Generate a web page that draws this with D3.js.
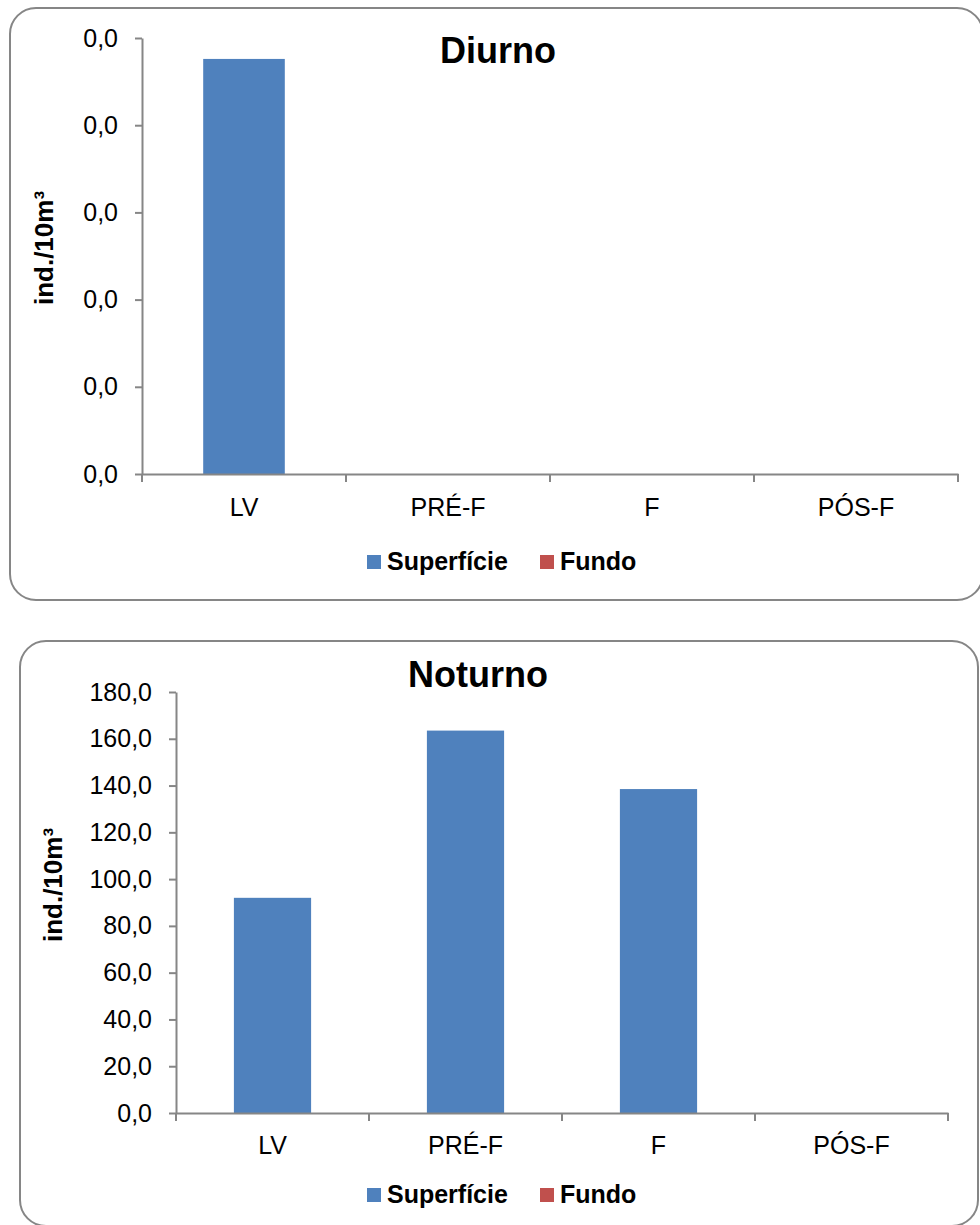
<!DOCTYPE html>
<html>
<head>
<meta charset="utf-8">
<script src="https://cdn.jsdelivr.net/npm/d3@7"></script>
<style>
  body { margin: 0; background: #fff; }
  svg { display: block; font-family: "Liberation Sans", Arial, sans-serif; }
  .axis path, .axis line { stroke: #868686; stroke-width: 2; }
  .axis text { font-size: 25px; fill: #000; }
</style>
</head>
<body>
<div id="chart"></div>
<script>
const categories = ["LV", "PRÉ-F", "F", "PÓS-F"];
const seriesNames = ["Superfície", "Fundo"];
const seriesColors = ["#4F81BD", "#C0504D"];

// diurnal values are tiny: every tick reads 0,0 with one decimal
const diurnoSuperficie = [0.0238, 0, 0, 0];
const diurnoFundo = [0, 0, 0, 0];
const diurnoTicks = [0, 0.005, 0.01, 0.015, 0.02, 0.025];

const noturnoSuperficie = [92, 163.5, 138.5, 0];
const noturnoFundo = [0, 0, 0, 0];
const noturnoTicks = [0, 20, 40, 60, 80, 100, 120, 140, 160, 180];

const W = 980, H = 1225;
const fmt = d => (Math.round(d * 10) / 10).toFixed(1).replace(".", ",");

const svg = d3.select("#chart").append("svg")
  .attr("width", W)
  .attr("height", H);

// panel layout: frame box, plot box, text spots
const panels = [
  {title: "Diurno", values: [diurnoSuperficie, diurnoFundo], ticks: diurnoTicks,
   frame: {x: 10, y: 8, w: 973, h: 592},
   plot: {x0: 142, x1: 958, y0: 474, y1: 38},
   titleX: 498, titleY: 63, labelX: 53, labelY: 248, legendY: 570, xPad: 24},
  {title: "Noturno", values: [noturnoSuperficie, noturnoFundo], ticks: noturnoTicks,
   frame: {x: 20, y: 641, w: 958, h: 585},
   plot: {x0: 176, x1: 948, y0: 1113, y1: 692},
   titleX: 478, titleY: 687, labelX: 62, labelY: 885, legendY: 1203, xPad: 23}
];

panels.forEach(p => {
  const g = svg.append("g");

  g.append("rect")
    .attr("x", p.frame.x)
    .attr("y", p.frame.y)
    .attr("width", p.frame.w)
    .attr("height", p.frame.h)
    .attr("rx", 26)
    .attr("fill", "#fff")
    .attr("stroke", "#868686")
    .attr("stroke-width", 2);

  const x = d3.scaleBand()
    .domain(categories)
    .range([p.plot.x0, p.plot.x1])
    .padding(0);

  const y = d3.scaleLinear()
    .domain([p.ticks[0], p.ticks[p.ticks.length - 1]])
    .range([p.plot.y0, p.plot.y1]);

  const barW = x.bandwidth() * 0.4;

  // Fundo first (all zero), Superfície on top, both centred in the category
  [1, 0].forEach(si => {
    g.append("g").selectAll("rect")
      .data(p.values[si])
      .enter()
      .append("rect")
      .attr("x", (d, i) => x(categories[i]) + x.bandwidth() / 2 - barW / 2)
      .attr("y", d => y(d))
      .attr("width", barW)
      .attr("height", d => y(0) - y(d))
      .attr("fill", seriesColors[si]);
  });

  // y axis
  g.append("g")
    .attr("class", "axis")
    .attr("transform", "translate(" + p.plot.x0 + ",0)")
    .call(d3.axisLeft(y).tickValues(p.ticks).tickFormat(fmt).tickSizeInner(7).tickSizeOuter(0).tickPadding(17));

  // x axis: labels centred, tick marks at category boundaries
  const xa = g.append("g")
    .attr("class", "axis")
    .attr("transform", "translate(0," + p.plot.y0 + ")")
    .call(d3.axisBottom(x).tickSizeInner(0).tickSizeOuter(0).tickPadding(p.xPad));

  const bounds = categories.map(c => x(c)).concat([x.range()[1]]);
  xa.selectAll(".bound")
    .data(bounds)
    .enter()
    .append("line")
    .attr("class", "bound")
    .attr("x1", d => d)
    .attr("x2", d => d)
    .attr("y1", 0)
    .attr("y2", 8);

  // title
  g.append("text")
    .attr("x", p.titleX)
    .attr("y", p.titleY)
    .attr("text-anchor", "middle")
    .attr("font-size", "36px")
    .attr("font-weight", "bold")
    .text(p.title);

  // y label
  g.append("text")
    .attr("transform", "translate(" + p.labelX + "," + p.labelY + ") rotate(-90)")
    .attr("text-anchor", "middle")
    .attr("font-size", "26px")
    .attr("font-weight", "bold")
    .text("ind./10m³");

  // legend
  const legX = [367, 540];
  seriesNames.forEach((name, i) => {
    g.append("rect")
      .attr("x", legX[i])
      .attr("y", p.legendY - 15)
      .attr("width", 14)
      .attr("height", 14)
      .attr("fill", seriesColors[i]);
    g.append("text")
      .attr("x", legX[i] + 20)
      .attr("y", p.legendY)
      .attr("font-size", "25px")
      .attr("font-weight", "bold")
      .text(name);
  });
});
</script>
</body>
</html>
